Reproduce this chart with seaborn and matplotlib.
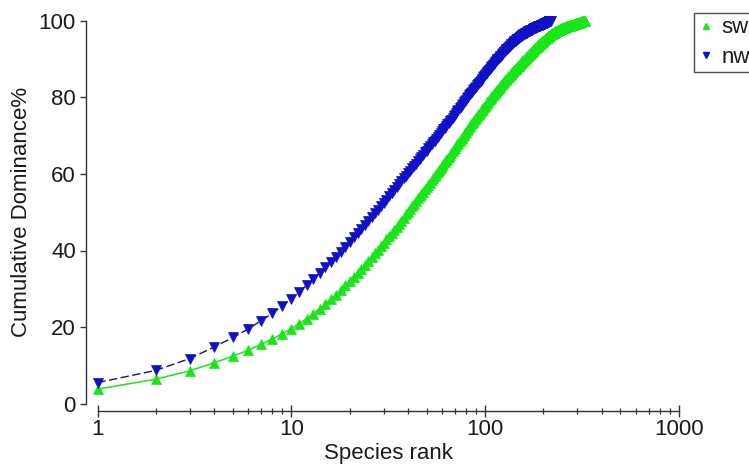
import matplotlib
matplotlib.use("Agg")
import matplotlib.pyplot as plt
import matplotlib.ticker as mticker
from matplotlib.lines import Line2D
import numpy as np
import pandas as pd
import seaborn as sns

# Cumulative dominance (%) by species rank, one value per rank
sw_cumulative = [
    3.8, 6.4, 8.6, 10.7, 12.4, 14.0, 15.5, 16.9, 18.3, 19.6,
    20.9, 22.2, 23.5, 24.8, 26.1, 27.3, 28.5, 29.7, 30.9, 32.0,
    33.1, 34.2, 35.3, 36.3, 37.3, 38.3, 39.3, 40.2, 41.1, 42.0,
    42.9, 43.8, 44.6, 45.4, 46.2, 47.0, 47.8, 48.6, 49.4, 50.1,
    50.8, 51.5, 52.2, 52.9, 53.6, 54.2, 54.8, 55.4, 56.0, 56.6,
    57.2, 57.7, 58.3, 58.8, 59.4, 59.9, 60.4, 61.0, 61.5, 62.0,
    62.5, 63.0, 63.5, 64.0, 64.5, 65.0, 65.5, 65.9, 66.4, 66.8,
    67.3, 67.7, 68.1, 68.6, 69.0, 69.4, 69.8, 70.2, 70.6, 71.0,
    71.4, 71.8, 72.2, 72.5, 72.9, 73.3, 73.6, 74.0, 74.3, 74.7,
    75.0, 75.3, 75.7, 76.0, 76.3, 76.6, 76.9, 77.2, 77.5, 77.8,
    78.1, 78.4, 78.7, 78.9, 79.2, 79.5, 79.8, 80.0, 80.3, 80.5,
    80.8, 81.0, 81.3, 81.5, 81.8, 82.0, 82.2, 82.5, 82.7, 82.9,
    83.1, 83.4, 83.6, 83.8, 84.0, 84.2, 84.4, 84.6, 84.8, 85.0,
    85.2, 85.4, 85.6, 85.8, 85.9, 86.1, 86.3, 86.5, 86.7, 86.8,
    87.0, 87.2, 87.3, 87.5, 87.7, 87.8, 88.0, 88.2, 88.3, 88.5,
    88.6, 88.8, 88.9, 89.1, 89.2, 89.4, 89.5, 89.7, 89.8, 90.0,
    90.1, 90.3, 90.4, 90.5, 90.7, 90.8, 91.0, 91.1, 91.2, 91.4,
    91.5, 91.6, 91.8, 91.9, 92.0, 92.1, 92.3, 92.4, 92.5, 92.6,
    92.8, 92.9, 93.0, 93.1, 93.2, 93.4, 93.5, 93.6, 93.7, 93.8,
    93.9, 94.0, 94.1, 94.2, 94.3, 94.4, 94.5, 94.6, 94.7, 94.8,
    94.9, 95.0, 95.1, 95.2, 95.3, 95.4, 95.5, 95.6, 95.6, 95.7,
    95.8, 95.9, 96.0, 96.0, 96.1, 96.2, 96.3, 96.4, 96.4, 96.5,
    96.6, 96.6, 96.7, 96.8, 96.8, 96.9, 96.9, 97.0, 97.1, 97.1,
    97.2, 97.2, 97.3, 97.3, 97.4, 97.4, 97.5, 97.5, 97.6, 97.6,
    97.7, 97.7, 97.8, 97.8, 97.8, 97.9, 97.9, 98.0, 98.0, 98.0,
    98.1, 98.1, 98.1, 98.2, 98.2, 98.2, 98.3, 98.3, 98.3, 98.4,
    98.4, 98.4, 98.5, 98.5, 98.5, 98.5, 98.6, 98.6, 98.6, 98.6,
    98.7, 98.7, 98.7, 98.7, 98.8, 98.8, 98.8, 98.8, 98.9, 98.9,
    98.9, 98.9, 99.0, 99.0, 99.0, 99.0, 99.1, 99.1, 99.1, 99.1,
    99.2, 99.2, 99.2, 99.2, 99.3, 99.3, 99.3, 99.3, 99.4, 99.4,
    99.4, 99.4, 99.5, 99.5, 99.5, 99.5, 99.6, 99.6, 99.6, 99.6,
    99.7, 99.7, 99.7, 99.7, 99.8, 99.8, 99.8, 99.8, 99.9, 99.9,
    99.9, 99.9, 99.9, 100.0, 100.0, 100.0, 100.0, 100.0,
]

nw_cumulative = [
    5.5, 8.7, 11.8, 14.8, 17.3, 19.5, 21.7, 23.6, 25.5, 27.4,
    29.2, 30.9, 32.5, 34.1, 35.6, 37.0, 38.4, 39.7, 41.0, 42.2,
    43.4, 44.5, 45.6, 46.7, 47.7, 48.7, 49.7, 50.7, 51.6, 52.5,
    53.3, 54.2, 55.0, 55.8, 56.6, 57.3, 58.1, 58.8, 59.5, 60.2,
    60.8, 61.5, 62.1, 62.7, 63.3, 63.9, 64.5, 65.0, 65.6, 66.1,
    66.7, 67.2, 67.7, 68.2, 68.7, 69.2, 69.7, 70.2, 70.6, 71.1,
    71.6, 72.0, 72.5, 72.9, 73.4, 73.8, 74.2, 74.7, 75.1, 75.5,
    75.9, 76.3, 76.7, 77.1, 77.5, 77.9, 78.3, 78.7, 79.0, 79.4,
    79.8, 80.1, 80.5, 80.8, 81.2, 81.5, 81.9, 82.2, 82.5, 82.8,
    83.1, 83.4, 83.7, 84.0, 84.3, 84.6, 84.9, 85.2, 85.5, 85.8,
    86.1, 86.4, 86.7, 86.9, 87.2, 87.5, 87.7, 88.0, 88.2, 88.5,
    88.7, 89.0, 89.2, 89.4, 89.7, 89.9, 90.1, 90.3, 90.5, 90.7,
    90.9, 91.1, 91.3, 91.5, 91.7, 91.9, 92.1, 92.3, 92.5, 92.7,
    92.9, 93.0, 93.2, 93.4, 93.5, 93.7, 93.8, 94.0, 94.1, 94.3,
    94.4, 94.6, 94.7, 94.8, 95.0, 95.1, 95.2, 95.3, 95.5, 95.6,
    95.7, 95.8, 95.9, 96.0, 96.1, 96.2, 96.3, 96.4, 96.5, 96.6,
    96.7, 96.8, 96.9, 96.9, 97.0, 97.1, 97.2, 97.2, 97.3, 97.4,
    97.5, 97.5, 97.6, 97.7, 97.7, 97.8, 97.9, 97.9, 98.0, 98.0,
    98.1, 98.2, 98.2, 98.3, 98.3, 98.4, 98.4, 98.5, 98.5, 98.6,
    98.6, 98.7, 98.7, 98.8, 98.8, 98.9, 98.9, 99.0, 99.0, 99.1,
    99.1, 99.2, 99.2, 99.3, 99.3, 99.4, 99.4, 99.5, 99.5, 99.6,
    99.6, 99.7, 99.7, 99.8, 99.8, 99.9, 99.9, 100.0,
]

series_names = ["sw", "nw"]
x_ticks = [1, 10, 100, 1000]
x_tick_labels = ["1", "10", "100", "1000"]
y_ticks = [0, 20, 40, 60, 80, 100]

sw_df = pd.DataFrame({"rank": np.arange(1, len(sw_cumulative) + 1),
                      "dominance": sw_cumulative})
nw_df = pd.DataFrame({"rank": np.arange(1, len(nw_cumulative) + 1),
                      "dominance": nw_cumulative})

sns.set_theme(style="white")
plt.rcParams["font.family"] = ["Liberation Sans", "DejaVu Sans"]
plt.rcParams["text.color"] = "#1a1a1a"
plt.rcParams["axes.labelcolor"] = "#1a1a1a"
plt.rcParams["xtick.color"] = "#1a1a1a"
plt.rcParams["ytick.color"] = "#1a1a1a"

GREEN = "#19e619"
BLUE = "#1010c8"
NAVY = "#14145a"
FS = 16

fig = plt.figure(figsize=(7.49, 4.70), dpi=100)
ax = fig.add_axes([97.5 / 749, 66.3 / 470, 581.2 / 749, 383.0 / 470])

sns.lineplot(data=sw_df, x="rank", y="dominance", ax=ax, estimator=None,
             sort=False, color=GREEN, linewidth=1.1, marker="^",
             markersize=7.5, markeredgewidth=0.5, markeredgecolor=GREEN,
             clip_on=False, zorder=3)
sns.lineplot(data=nw_df, x="rank", y="dominance", ax=ax, estimator=None,
             sort=False, color=NAVY, linewidth=1.0, linestyle=(0, (6, 2.5)),
             marker="v", markersize=7.5, markerfacecolor=BLUE,
             markeredgecolor=BLUE, markeredgewidth=0.5,
             clip_on=False, zorder=3)

ax.set_xscale("log")
ax.set_xlim(1, 1000)
ax.set_ylim(0, 100)
ax.xaxis.set_major_locator(mticker.FixedLocator(x_ticks))
ax.xaxis.set_major_formatter(mticker.FixedFormatter(x_tick_labels))
ax.xaxis.set_minor_locator(mticker.LogLocator(base=10, subs=np.arange(2, 10)))
ax.xaxis.set_minor_formatter(mticker.NullFormatter())
ax.yaxis.set_major_locator(mticker.FixedLocator(y_ticks))

for side in ("top", "right"):
    ax.spines[side].set_visible(False)
ax.spines["left"].set_position(("outward", 8))
ax.spines["left"].set_bounds(0, 100)
ax.spines["bottom"].set_position(("outward", 5))
ax.spines["bottom"].set_bounds(1, 1000)
for side in ("left", "bottom"):
    ax.spines[side].set_color("#333333")
    ax.spines[side].set_linewidth(1.0)

ax.tick_params(axis="y", which="major", direction="out", length=4.5,
               width=1.0, color="#333333", labelsize=FS, pad=3, left=True)
ax.tick_params(axis="x", which="major", direction="inout", length=8.5,
               width=1.0, color="#333333", labelsize=FS, pad=2, bottom=True)
ax.tick_params(axis="x", which="minor", direction="inout", length=4.5,
               width=0.9, color="#333333", bottom=True)

ax.set_xlabel("Species rank", fontsize=FS, labelpad=2)
ax.set_ylabel("Cumulative Dominance%", fontsize=FS, labelpad=5)
ax.grid(False)

handles = [
    Line2D([], [], linestyle="none", marker="^", markersize=5,
           color=GREEN, markeredgecolor=GREEN),
    Line2D([], [], linestyle="none", marker="v", markersize=5,
           color=BLUE, markeredgecolor=BLUE),
]
leg = fig.legend(handles, series_names, loc="upper left",
                 bbox_to_anchor=(694 / 749, 1 - 13.3 / 470),
                 bbox_transform=fig.transFigure, fontsize=FS,
                 frameon=True, fancybox=False, handlelength=0.7,
                 handletextpad=0.35, labelspacing=0.4, borderpad=0.18,
                 borderaxespad=0)
leg.get_frame().set_edgecolor("#222222")
leg.get_frame().set_linewidth(1.0)

fig.savefig("out.png", dpi=100)
